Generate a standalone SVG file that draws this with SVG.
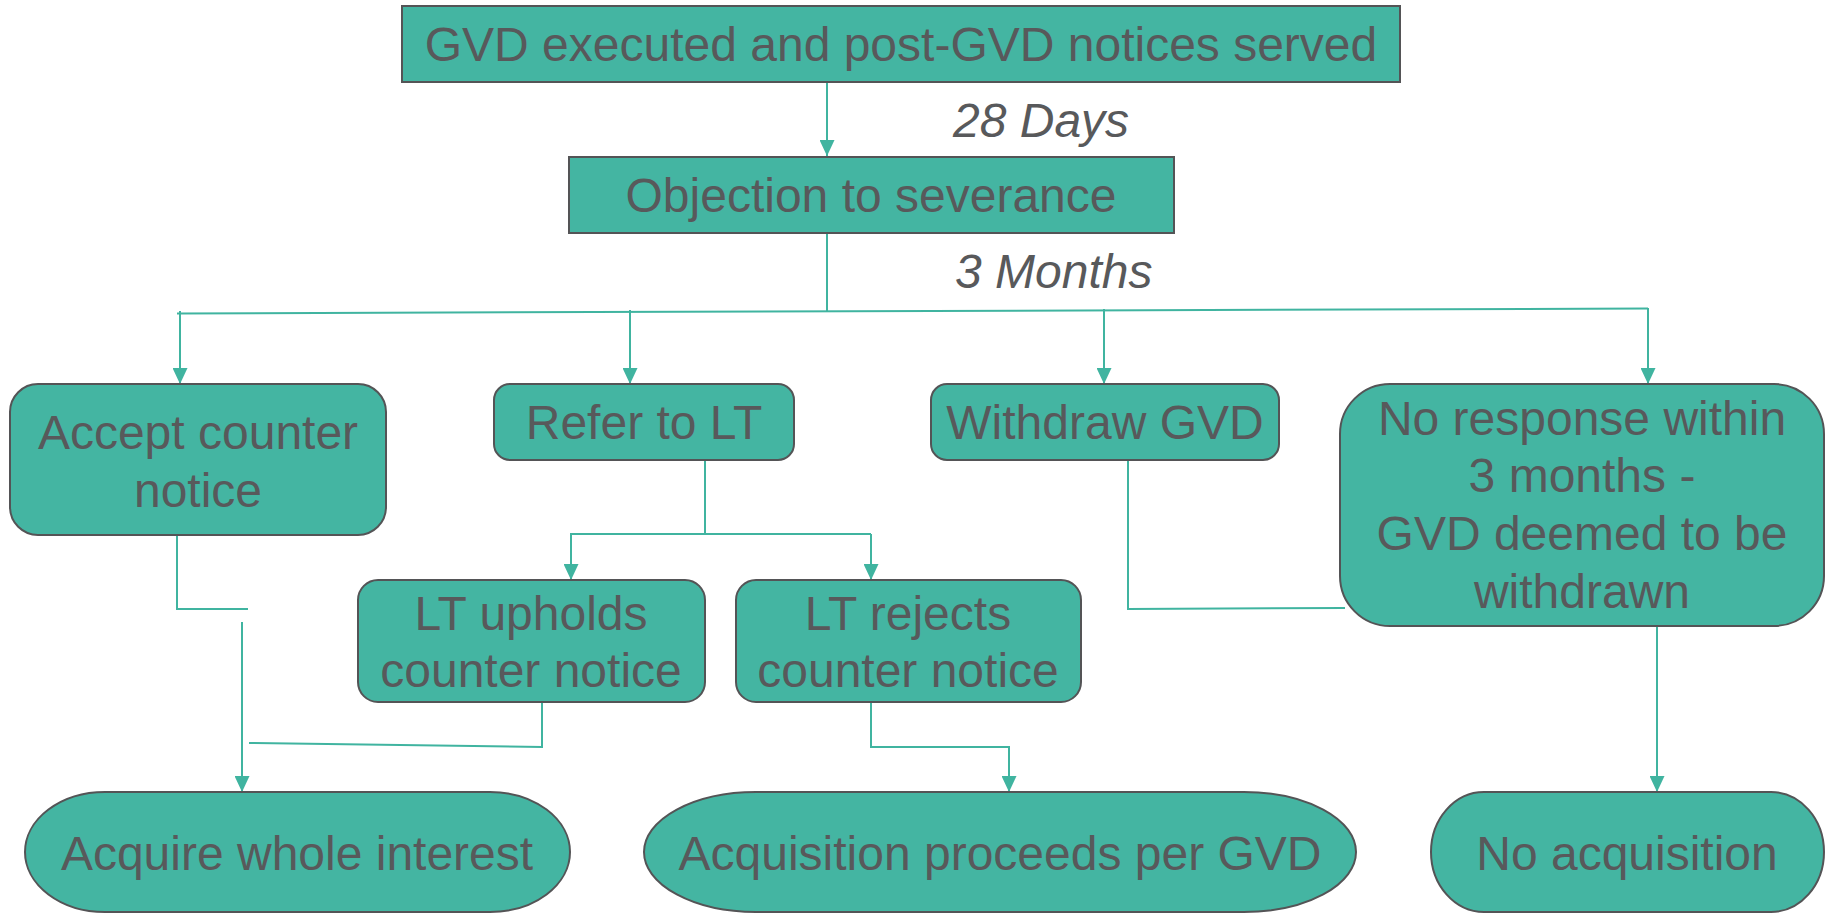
<svg xmlns="http://www.w3.org/2000/svg" width="1833" height="913" viewBox="0 0 1833 913">
<style>
.box{fill:#44B5A2;stroke:#545456;stroke-width:2}
.t{font-family:"Liberation Sans",Arial,sans-serif;font-size:48px;fill:#58595B;text-anchor:middle}
.it{font-family:"Liberation Sans",Arial,sans-serif;font-size:48px;fill:#58595B;font-style:italic}
.c{fill:none;stroke:#40B4A0;stroke-width:2}
</style>
<defs>
<marker id="ah" viewBox="0 0 16 15" markerWidth="16" markerHeight="15" refX="16" refY="7.5" orient="auto" markerUnits="userSpaceOnUse">
<path d="M0,0 L16,7.5 L0,15 Z" fill="#40B4A0"/>
</marker>
</defs>
<rect width="1833" height="913" fill="#ffffff"/>
<g id="connectors">
<path class="c" d="M827,82 V156" marker-end="url(#ah)"/>
<path class="c" d="M827,233 V311"/>
<path class="c" d="M177,313.4 L1648,308.6"/>
<path class="c" d="M180,311 V384" marker-end="url(#ah)"/>
<path class="c" d="M630,310 V384" marker-end="url(#ah)"/>
<path class="c" d="M1104,309 V384" marker-end="url(#ah)"/>
<path class="c" d="M1648,308 V384" marker-end="url(#ah)"/>
<path class="c" d="M705,460 V534 H871"/>
<path class="c" d="M571,533 V580" marker-end="url(#ah)"/>
<path class="c" d="M571,534 H705"/>
<path class="c" d="M871,534 V580" marker-end="url(#ah)"/>
<path class="c" d="M177,535 V609 H248"/>
<path class="c" d="M242,622 V792" marker-end="url(#ah)"/>
<path class="c" d="M542,702 V747 L249,743"/>
<path class="c" d="M871,702 V747 H1009 V792" marker-end="url(#ah)"/>
<path class="c" d="M1128,460 V609 L1345,608"/>
<path class="c" d="M1657,626 V792" marker-end="url(#ah)"/>
</g>
<g id="label-28days"><text class="it" x="953" y="137">28 Days</text></g>
<g id="label-3months"><text class="it" x="955" y="288">3 Months</text></g>
<g id="n-gvd">
<rect class="box" x="402" y="6" width="998" height="76"/>
<text class="t" x="901" y="61">GVD executed and post-GVD notices served</text>
</g>
<g id="n-objection">
<rect class="box" x="569" y="157" width="605" height="76"/>
<text class="t" x="871" y="212">Objection to severance</text>
</g>
<g id="n-accept">
<rect class="box" x="10" y="384" width="376" height="151" rx="28"/>
<text class="t" x="198" y="449">Accept counter</text>
<text class="t" x="198" y="507">notice</text>
</g>
<g id="n-refer">
<rect class="box" x="494" y="384" width="300" height="76" rx="16"/>
<text class="t" x="644" y="439">Refer to LT</text>
</g>
<g id="n-withdraw">
<rect class="box" x="931" y="384" width="348" height="76" rx="16"/>
<text class="t" x="1105" y="439">Withdraw GVD</text>
</g>
<g id="n-noresponse">
<rect class="box" x="1340" y="384" width="484" height="242" rx="50"/>
<text class="t" x="1582" y="435">No response within</text>
<text class="t" x="1582" y="492">3 months -</text>
<text class="t" x="1582" y="550">GVD deemed to be</text>
<text class="t" x="1582" y="608">withdrawn</text>
</g>
<g id="n-upholds">
<rect class="box" x="358" y="580" width="347" height="122" rx="20"/>
<text class="t" x="531" y="630">LT upholds</text>
<text class="t" x="531" y="687">counter notice</text>
</g>
<g id="n-rejects">
<rect class="box" x="736" y="580" width="345" height="122" rx="20"/>
<text class="t" x="908" y="630">LT rejects</text>
<text class="t" x="908" y="687">counter notice</text>
</g>
<g id="n-acquire">
<path class="box" d="M105,792 H490 A80,60 0 0 1 490,912 H105 A80,60 0 0 1 105,792 Z"/>
<text class="t" x="297" y="870">Acquire whole interest</text>
</g>
<g id="n-proceeds">
<path class="box" d="M756,792 H1244 A112,60 0 0 1 1244,912 H756 A112,60 0 0 1 756,792 Z"/>
<text class="t" x="1000" y="870">Acquisition proceeds per GVD</text>
</g>
<g id="n-noacq">
<path class="box" d="M1484,792 H1771 A53,60 0 0 1 1771,912 H1484 A53,60 0 0 1 1484,792 Z"/>
<text class="t" x="1627" y="870">No acquisition</text>
</g>
</svg>
